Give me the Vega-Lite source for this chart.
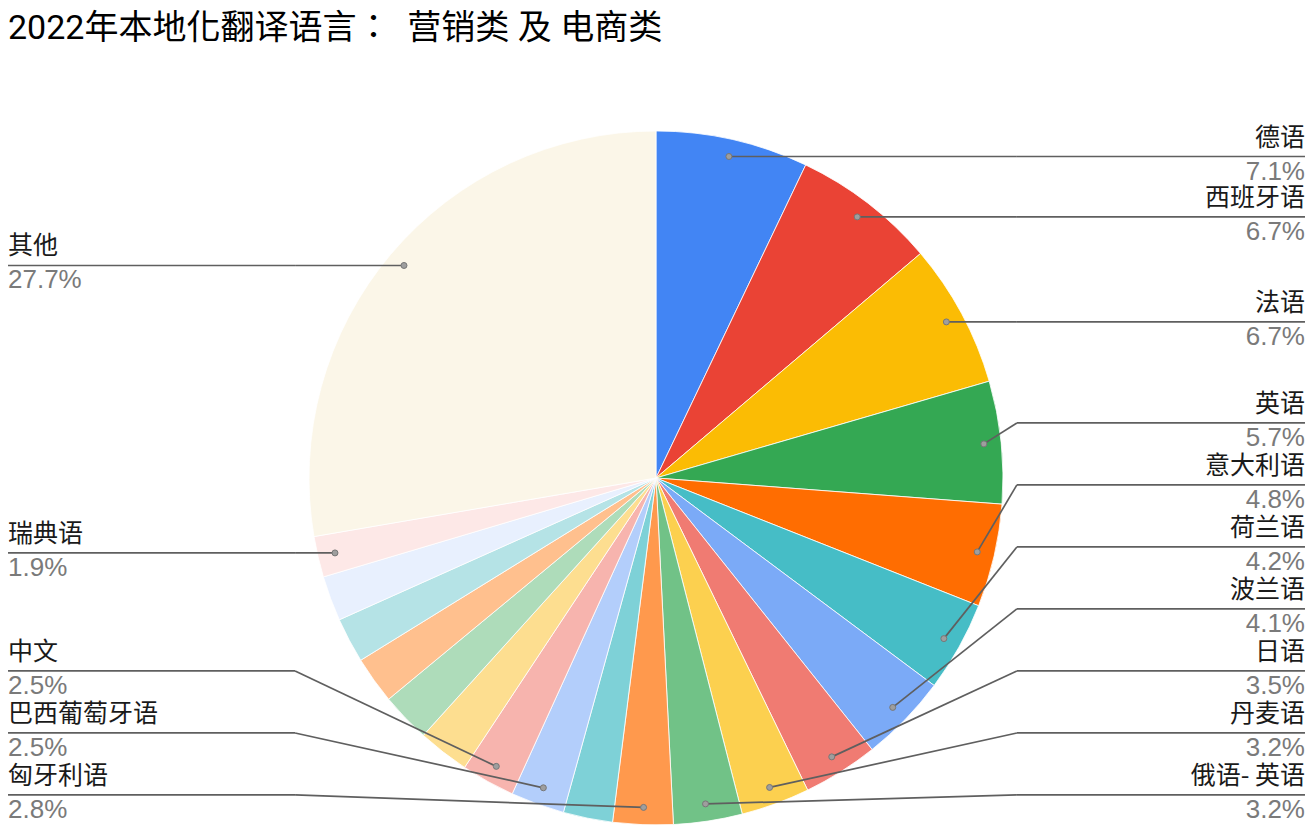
{
  "$schema": "https://vega.github.io/schema/vega-lite/v6.json",
  "width": 1313,
  "height": 838,
  "padding": 0,
  "autosize": {"type": "none"},
  "background": "white",
  "title": {
    "text": "2022年本地化翻译语言：\u00a0\u00a0营销类 及 电商类",
    "orient": "top",
    "anchor": "start",
    "frame": "group",
    "offset": -73,
    "baseline": "alphabetic",
    "dx": 8,
    "fontSize": 34,
    "fontWeight": "normal",
    "font": "Roboto, Noto Sans CJK TC",
    "color": "#000000"
  },
  "config": {"view": {"stroke": null}, "font": "Roboto, Noto Sans CJK SC"},
  "data": {
    "values": [
      {"id": 1, "name": "德语", "pct": 7.1},
      {"id": 2, "name": "西班牙语", "pct": 6.7},
      {"id": 3, "name": "法语", "pct": 6.7},
      {"id": 4, "name": "英语", "pct": 5.7},
      {"id": 5, "name": "意大利语", "pct": 4.8},
      {"id": 6, "name": "荷兰语", "pct": 4.2},
      {"id": 7, "name": "波兰语", "pct": 4.1},
      {"id": 8, "name": "日语", "pct": 3.5},
      {"id": 9, "name": "丹麦语", "pct": 3.2},
      {"id": 10, "name": "俄语- 英语", "pct": 3.2},
      {"id": 11, "name": "匈牙利语", "pct": 2.8},
      {"id": 12, "name": "", "pct": 2.3},
      {"id": 13, "name": "巴西葡萄牙语", "pct": 2.5},
      {"id": 14, "name": "中文", "pct": 2.5},
      {"id": 15, "name": "", "pct": 2.4},
      {"id": 16, "name": "", "pct": 2.3},
      {"id": 17, "name": "", "pct": 2.2},
      {"id": 18, "name": "", "pct": 2.1},
      {"id": 19, "name": "", "pct": 2.1},
      {"id": 20, "name": "瑞典语", "pct": 1.9},
      {"id": 21, "name": "其他", "pct": 27.7}
    ]
  },
  "transform": [
    {"joinaggregate": [{"op": "sum", "field": "pct", "as": "total"}]},
    {"window": [{"op": "sum", "field": "pct", "as": "cum"}], "sort": [{"field": "id"}], "frame": [null, 0]},
    {"calculate": "2 * PI * (datum.cum - datum.pct / 2) / datum.total", "as": "a"},
    {"calculate": "0.95 * sin(datum.a)", "as": "ax"},
    {"calculate": "0.95 * cos(datum.a)", "as": "ay"},
    {"calculate": "datum.ax >= 0 ? 'R' : 'L'", "as": "side"},
    {"calculate": "datum.side == 'R' ? 1.04 : -1.04", "as": "bx"},
    {"calculate": "datum.side == 'R' ? 1.8703 : -1.8674", "as": "ex"},
    {"calculate": "format(datum.pct, '.1f') + '%'", "as": "ptxt"}
  ],
  "layer": [
    {
      "mark": {"type": "arc", "outerRadius": 347, "stroke": "#ffffff", "strokeWidth": 0.8},
      "encoding": {
        "x": {"datum": 0, "type": "quantitative", "scale": {"domain": [-1.8905, 1.8934], "nice": false, "zero": false}, "axis": null},
        "y": {"datum": 0, "type": "quantitative", "scale": {"domain": [-1.0375, 1.3775], "nice": false, "zero": false}, "axis": null},
        "theta": {"field": "pct", "type": "quantitative", "stack": true},
        "order": {"field": "id"},
        "color": {
          "field": "id",
          "type": "ordinal",
          "legend": null,
          "scale": {
            "domain": [1, 2, 3, 4, 5, 6, 7, 8, 9, 10, 11, 12, 13, 14, 15, 16, 17, 18, 19, 20, 21],
            "range": ["#4285F4", "#EA4335", "#FBBC04", "#34A853", "#FF6D01", "#46BDC6", "#7BAAF7", "#F07B72", "#FCD04F", "#71C287", "#FF994D", "#7ED1D7", "#B3CEFB", "#F7B4AE", "#FDDE90", "#AEDCBA", "#FFC08E", "#B5E3E6", "#E8F0FE", "#FDE8E7", "#FBF6E8"]
          }
        }
      }
    },
    {
      "transform": [
        {"filter": "datum.name != ''"},
        {"calculate": "datum.side == 'R' ? -datum.id : datum.id", "as": "k"},
        {"window": [{"op": "row_number", "as": "rn"}], "groupby": ["side"], "sort": [{"field": "k"}]},
        {"calculate": "max(datum.ay, -0.9135 + 0.1787 * (datum.rn - 1))", "as": "ly"}
      ],
      "layer": [
        {
          "mark": {"type": "rule", "color": "#5f5f5f", "strokeWidth": 1.7},
          "encoding": {
            "x": {"field": "ax", "type": "quantitative", "scale": {"domain": [-1.8905, 1.8934], "nice": false, "zero": false}, "axis": null},
            "y": {"field": "ay", "type": "quantitative", "scale": {"domain": [-1.0375, 1.3775], "nice": false, "zero": false}, "axis": null},
            "x2": {"field": "bx"},
            "y2": {"field": "ly"}
          }
        },
        {
          "mark": {"type": "rule", "color": "#5f5f5f", "strokeWidth": 1.7},
          "encoding": {
            "x": {"field": "bx", "type": "quantitative", "scale": {"domain": [-1.8905, 1.8934], "nice": false, "zero": false}, "axis": null},
            "y": {"field": "ly", "type": "quantitative", "scale": {"domain": [-1.0375, 1.3775], "nice": false, "zero": false}, "axis": null},
            "x2": {"field": "ex"},
            "y2": {"field": "ly"}
          }
        },
        {
          "mark": {"type": "circle", "size": 36, "fill": "#9e9e9e", "stroke": "#777777", "strokeWidth": 1, "opacity": 1},
          "encoding": {
            "x": {"field": "ax", "type": "quantitative", "scale": {"domain": [-1.8905, 1.8934], "nice": false, "zero": false}, "axis": null},
            "y": {"field": "ay", "type": "quantitative", "scale": {"domain": [-1.0375, 1.3775], "nice": false, "zero": false}, "axis": null}
          }
        },
        {
          "transform": [{"filter": "datum.side == 'R'"}],
          "mark": {"type": "text", "align": "right", "baseline": "alphabetic", "dy": -11, "fontSize": 25, "font": "Noto Sans CJK SC", "color": "#1a1a1a"},
          "encoding": {
            "x": {"field": "ex", "type": "quantitative", "scale": {"domain": [-1.8905, 1.8934], "nice": false, "zero": false}, "axis": null},
            "y": {"field": "ly", "type": "quantitative", "scale": {"domain": [-1.0375, 1.3775], "nice": false, "zero": false}, "axis": null},
            "text": {"field": "name"}
          }
        },
        {
          "transform": [{"filter": "datum.side == 'L'"}],
          "mark": {"type": "text", "align": "left", "baseline": "alphabetic", "dy": -11, "fontSize": 25, "font": "Noto Sans CJK SC", "color": "#1a1a1a"},
          "encoding": {
            "x": {"field": "ex", "type": "quantitative", "scale": {"domain": [-1.8905, 1.8934], "nice": false, "zero": false}, "axis": null},
            "y": {"field": "ly", "type": "quantitative", "scale": {"domain": [-1.0375, 1.3775], "nice": false, "zero": false}, "axis": null},
            "text": {"field": "name"}
          }
        },
        {
          "transform": [{"filter": "datum.side == 'R'"}],
          "mark": {"type": "text", "align": "right", "baseline": "alphabetic", "dy": 23, "fontSize": 26, "font": "Liberation Sans", "color": "#7a7a7a"},
          "encoding": {
            "x": {"field": "ex", "type": "quantitative", "scale": {"domain": [-1.8905, 1.8934], "nice": false, "zero": false}, "axis": null},
            "y": {"field": "ly", "type": "quantitative", "scale": {"domain": [-1.0375, 1.3775], "nice": false, "zero": false}, "axis": null},
            "text": {"field": "ptxt"}
          }
        },
        {
          "transform": [{"filter": "datum.side == 'L'"}],
          "mark": {"type": "text", "align": "left", "baseline": "alphabetic", "dy": 23, "fontSize": 26, "font": "Liberation Sans", "color": "#7a7a7a"},
          "encoding": {
            "x": {"field": "ex", "type": "quantitative", "scale": {"domain": [-1.8905, 1.8934], "nice": false, "zero": false}, "axis": null},
            "y": {"field": "ly", "type": "quantitative", "scale": {"domain": [-1.0375, 1.3775], "nice": false, "zero": false}, "axis": null},
            "text": {"field": "ptxt"}
          }
        }
      ]
    }
  ]
}
